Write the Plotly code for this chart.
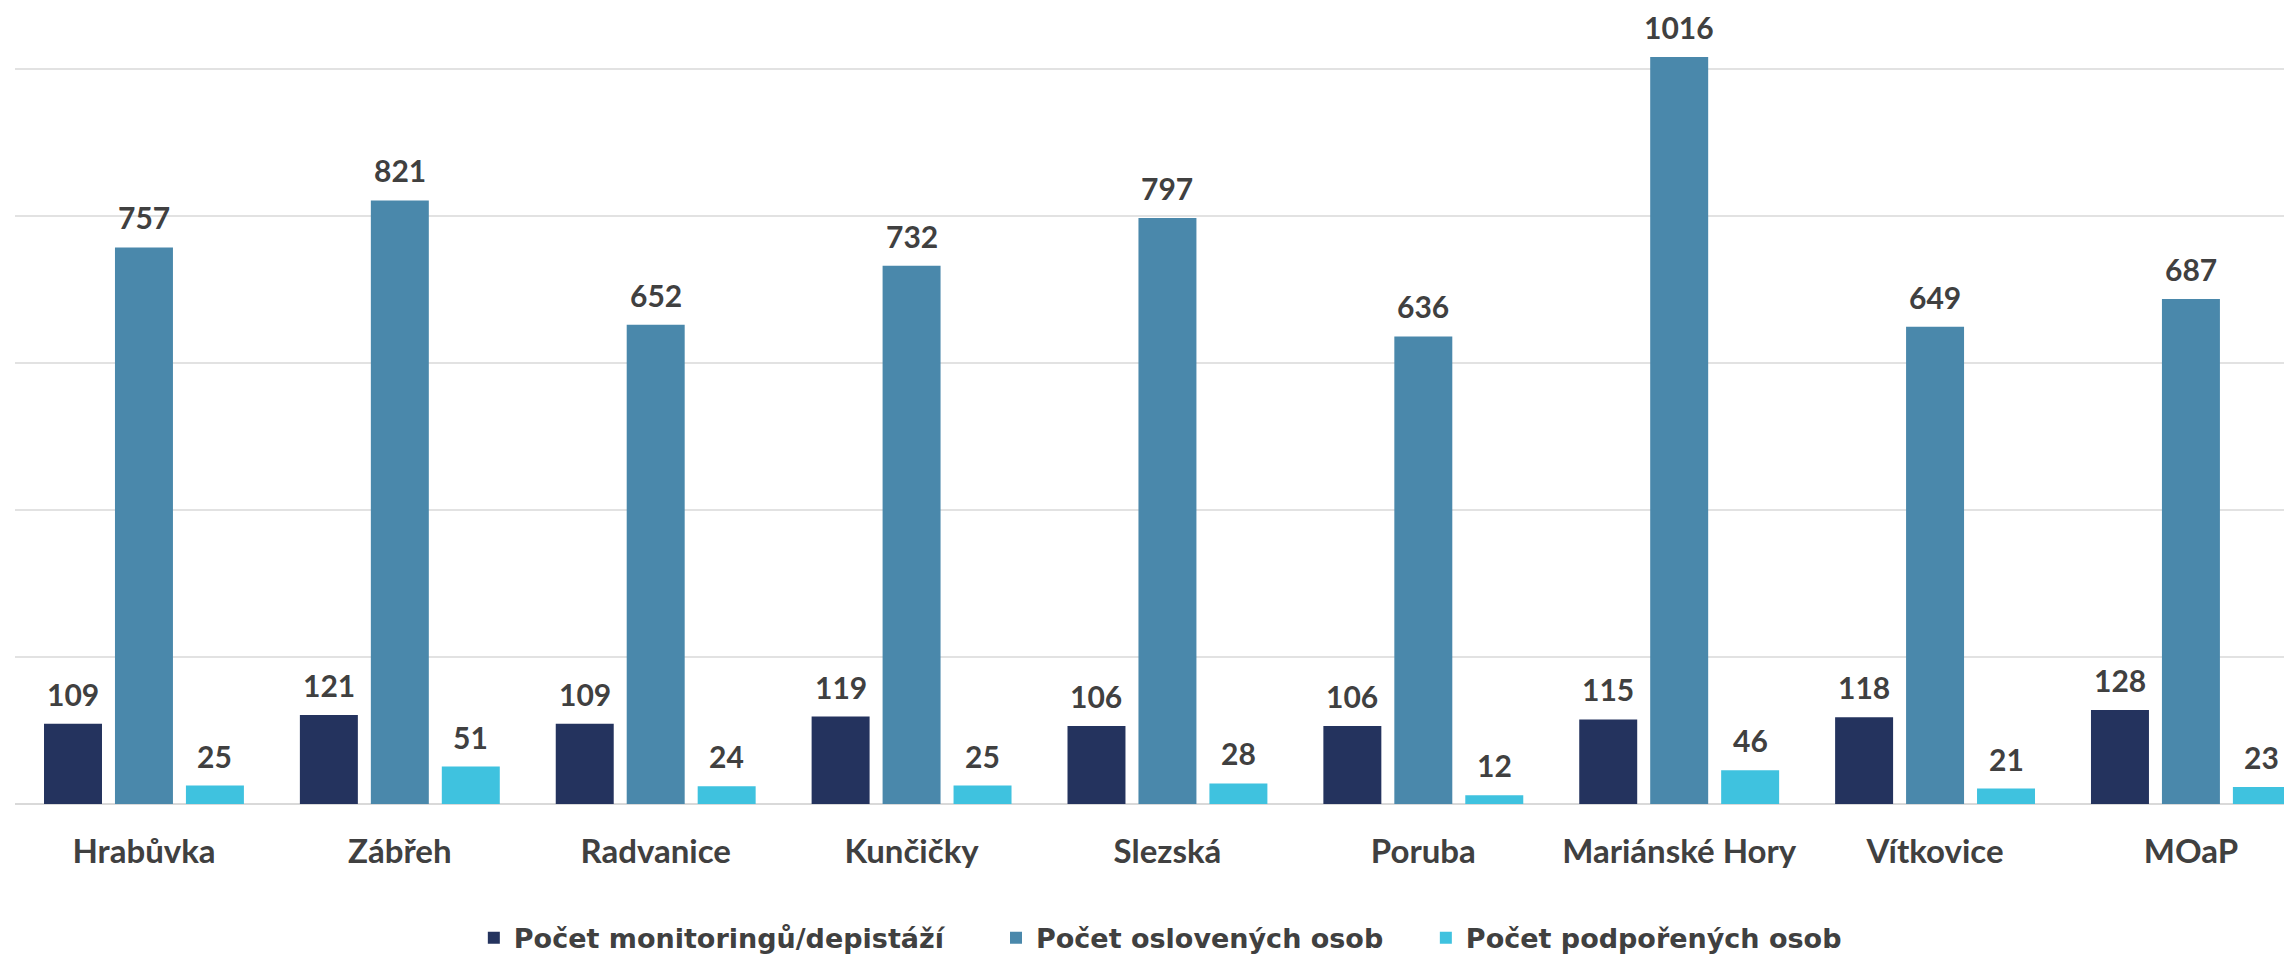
import plotly.graph_objects as go

categories = ["Hrabůvka", "Zábřeh", "Radvanice", "Kunčičky", "Slezská",
              "Poruba", "Mariánské Hory", "Vítkovice", "MOaP"]
monitoring = [109, 121, 109, 119, 106, 106, 115, 118, 128]
osloveni = [757, 821, 652, 732, 797, 636, 1016, 649, 687]
podporeni = [25, 51, 24, 25, 28, 12, 46, 21, 23]

NB = "\u00a0"
series = [
    ("Počet monitoringů/depistáží", monitoring, "#24335e", 5),
    ("Počet oslovených osob", osloveni, "#4a88ab", 4),
    ("Počet podpořených osob", podporeni, "#3fc2df", 0),
]

FONT = "Lato"
TXT = "#404040"

fig = go.Figure()
for name, vals, col, pad in series:
    fig.add_trace(go.Bar(
        x=categories, y=vals, name=name + NB * pad,
        marker=dict(color=col, line=dict(width=0)),
        hovertemplate="%{x}<br>" + name + ": %{y}<extra></extra>",
    ))

# value labels via annotations
shifts = [-71, 0, 71]
for (name, vals, col, pad), dx in zip(series, shifts):
    for c, v in zip(categories, vals):
        fig.add_annotation(
            x=c, y=v, xref="x", yref="y", text=str(v),
            showarrow=False, yanchor="bottom", xanchor="center",
            xshift=dx, yshift=10,
            font=dict(family=FONT, size=30, color=TXT, weight="bold"),
        )

# the page adds an 8px body margin, so the figure is sized to fit the window
fig.update_layout(
    width=2284, height=955,
    margin=dict(l=7, r=0, t=2, b=151),
    paper_bgcolor="white", plot_bgcolor="white",
    barmode="group", bargap=0.168, bargroupgap=0.183,
    showlegend=True,
    legend=dict(
        orientation="h", x=0.503, xanchor="center", y=-0.169, yanchor="middle",
        font=dict(family="DejaVu Sans", size=27, color=TXT, weight="bold"),
        traceorder="normal",
    ),
    xaxis=dict(
        type="category", range=[-0.504, 8.395],
        showgrid=False, showline=False, zeroline=False, ticks="",
        tickfont=dict(family=FONT, size=33, color=TXT, weight="bold"),
        ticklabelstandoff=25,
    ),
    yaxis=dict(
        range=[0, 1080], dtick=200, showticklabels=False,
        showgrid=True, gridcolor="#e2e2e2", gridwidth=2,
        zeroline=True, zerolinecolor="#d9d9d9", zerolinewidth=2,
        showline=False, ticks="",
    ),
)

fig.write_html("out.html")
